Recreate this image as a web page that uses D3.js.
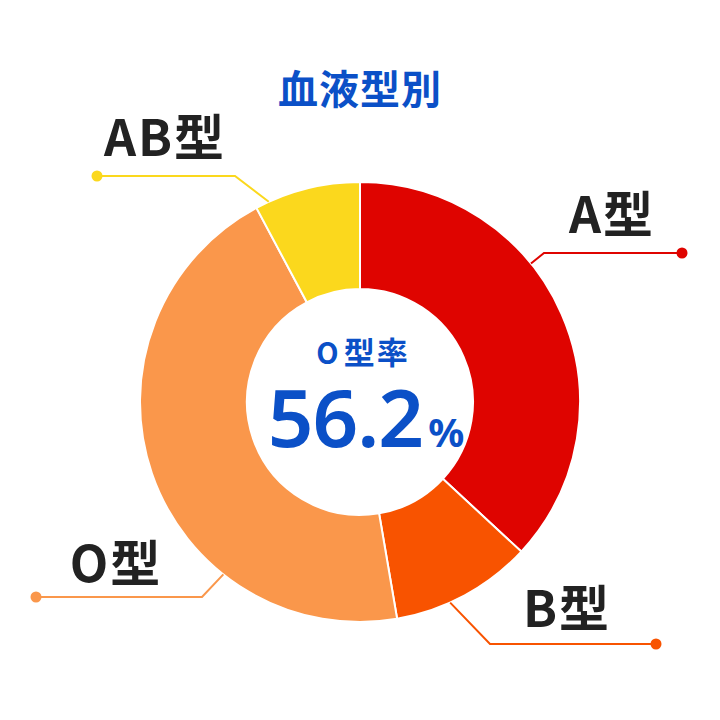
<!DOCTYPE html>
<html>
<head>
<meta charset="utf-8">
<script src="https://cdn.jsdelivr.net/npm/d3@7"></script>
<style>
html, body { margin: 0; padding: 0; background: #fff; }
svg { display: block; font-family: "Noto Sans CJK JP", "Noto Sans", sans-serif; }
</style>
</head>
<body>
<svg></svg>
<script>
const categories = ['A型', 'B型', 'O型', 'AB型'];
const values = [36.9, 10.4, 44.9, 7.8];
const title = '血液型別';
const centerLetter = 'O';
const centerLabel = '型率';
const centerValue = '56.2';
const centerUnit = '%';

const width = 720;
const height = 720;
const cx = 360;
const cy = 402;
const outerR = 220;
const innerR = 113;
const colors = ['#df0400', '#f85300', '#fa974b', '#fbd81d'];
const blue = '#0b50c7';
const textColor = '#222';

// leader line placement, one per category
const leaders = [
	{anchorDeg: 51,    lineY: 253, elbowX: 544, dotX: 682, labelX: 612, labelY: 233},
	{anchorDeg: 155.8, lineY: 644, elbowX: 490, dotX: 656, labelX: 567, labelY: 627},
	{anchorDeg: 218.4, lineY: 597, elbowX: 202, dotX: 36,  labelX: 116, labelY: 582},
	{anchorDeg: 335.5, lineY: 176, elbowX: 235, dotX: 97,  labelX: 165, labelY: 156}
];

var svg = d3.select('svg').attr('width', width).attr('height', height);

var data = categories.map((c, i) => ({name: c, value: values[i], color: colors[i], leader: leaders[i]}));

var pie = d3.pie().value(d => d.value).sort(null);
var arc = d3.arc().innerRadius(innerR).outerRadius(outerR);

var chart = svg.append('g').attr('transform', `translate(${cx},${cy})`);

chart.selectAll('path.slice')
.data(pie(data)).enter().append('path')
.classed('slice', true)
.attr('d', arc)
.style('fill', d => d.data.color)
.style('stroke', '#fff')
.style('stroke-width', 2);

// leader lines and labels
data.forEach(d => {
	var l = d.leader;
	var a = l.anchorDeg * Math.PI / 180;
	var ax = cx + outerR * Math.sin(a);
	var ay = cy - outerR * Math.cos(a);
	svg.append('path')
	.attr('d', d3.line()([[ax, ay], [l.elbowX, l.lineY], [l.dotX, l.lineY]]))
	.style('fill', 'none')
	.style('stroke', d.color)
	.style('stroke-width', 2);
	svg.append('circle')
	.attr('cx', l.dotX).attr('cy', l.lineY).attr('r', 5.5)
	.style('fill', d.color);
	svg.append('text')
	.attr('x', l.labelX).attr('y', l.labelY)
	.attr('text-anchor', 'middle')
	.style('font-size', '50px').style('font-weight', 700)
	.style('letter-spacing', '2px')
	.style('fill', textColor)
	.text(d.name);
});

// title
svg.append('text')
.attr('x', 360).attr('y', 104)
.attr('text-anchor', 'middle')
.style('font-size', '40px').style('font-weight', 700)
.style('letter-spacing', '1px')
.style('fill', blue)
.text(title);

// center text
var lab = svg.append('text')
.attr('x', 363).attr('y', 364)
.attr('text-anchor', 'middle')
.style('font-weight', 700)
.style('fill', blue);
lab.append('tspan')
.style('font-size', '29px')
.style('letter-spacing', '5px')
.text(centerLetter);
lab.append('tspan')
.style('font-size', '31px')
.style('letter-spacing', '2px')
.text(centerLabel);

var big = svg.append('text')
.attr('x', 366).attr('y', 447)
.attr('text-anchor', 'middle')
.style('fill', blue);
big.append('tspan')
.style('font-family', '"Noto Sans", sans-serif')
.style('font-size', '80px').style('font-weight', 600)
.style('letter-spacing', '-1px')
.text(centerValue);
big.append('tspan')
.attr('dx', 5)
.style('font-family', '"Noto Sans", sans-serif')
.style('font-size', '40px').style('font-weight', 700)
.text(centerUnit);
</script>
</body>
</html>
